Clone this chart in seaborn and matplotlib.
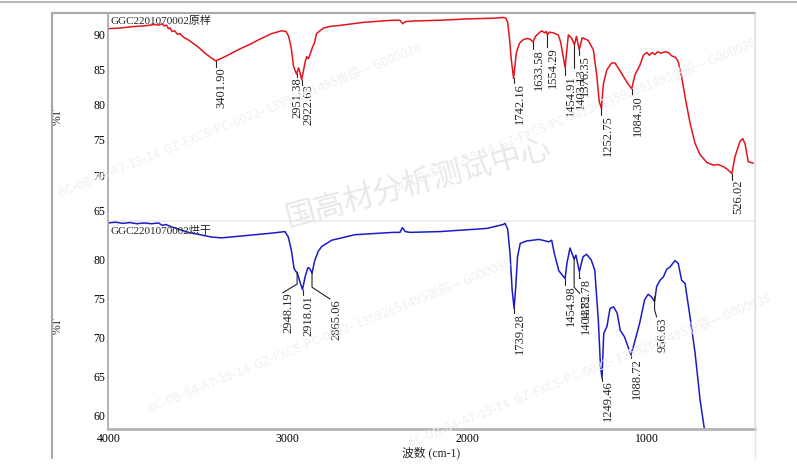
import numpy as np
import pandas as pd
import matplotlib
matplotlib.use("Agg")
import matplotlib.pyplot as plt
from matplotlib.lines import Line2D
from matplotlib.ticker import MultipleLocator
import seaborn as sns

# spectre "原样" (rouge) : nombre d'onde / %T
raw_wn = [4000, 3930, 3861, 3800, 3768, 3740, 3720, 3700, 3690, 3675, 3665, 3656, 3645, 3630,
          3615, 3600, 3582, 3554, 3500, 3461, 3430, 3401.90, 3350, 3276, 3200, 3164, 3090, 3034,
          3010, 2995, 2980, 2968, 2951.38, 2940, 2932, 2922.63, 2912, 2903, 2895, 2885, 2875, 2862,
          2852, 2840, 2800, 2770, 2700, 2580, 2420, 2375, 2360, 2345, 2300, 2152, 2000, 1850,
          1800, 1785, 1775, 1765, 1755, 1742.16, 1735, 1727, 1710, 1690, 1669, 1650, 1633.58, 1620,
          1600, 1585, 1570, 1560, 1554.29, 1545, 1520, 1493, 1480, 1470, 1454.91, 1447, 1437, 1420,
          1403.13, 1392, 1376.35, 1360, 1340, 1326, 1298, 1280, 1265, 1252.75, 1242, 1223, 1196,
          1177, 1140, 1112, 1084.30, 1066, 1038, 1019, 1000, 985, 970, 955, 940, 920, 900, 880,
          860, 840, 825, 806, 787, 759, 731, 703, 666, 630, 602, 574, 550, 526.02, 509, 481, 466,
          453, 435, 407]
raw_t = [90.9, 91.0, 91.2, 91.3, 91.4, 91.5, 91.4, 91.6, 91.3, 91.4, 90.9, 91.0, 90.5, 90.6,
         90.1, 90.2, 89.7, 89.3, 88.3, 87.4, 86.8, 86.3, 86.9, 87.9, 88.8, 89.3, 90.2, 90.6,
         90.5, 89.8, 88.0, 85.5, 84.4, 85.3, 84.6, 83.6, 85.0, 86.2, 86.9, 86.6, 87.3, 88.3,
         88.8, 90.2, 91.0, 91.2, 91.4, 91.8, 92.1, 92.1, 91.6, 91.9, 92.0, 92.1, 92.3, 92.4,
         92.5, 92.4, 91.8, 89.5, 86.5, 83.8, 85.5, 87.4, 88.8, 89.3, 89.5, 89.4, 89.0, 89.8,
         90.3, 90.6, 90.3, 90.5, 90.0, 90.4, 90.3, 90.0, 89.0, 87.5, 85.3, 87.5, 90.0, 89.6,
         88.6, 89.8, 87.9, 89.6, 89.4, 89.2, 87.9, 84.5, 80.5, 79.5, 83.0, 85.0, 86.0,
         86.0, 84.5, 83.3, 82.3, 84.3, 85.7, 87.1, 87.5, 87.1, 87.5, 87.2, 87.6, 87.4, 87.6, 87.5,
         87.0, 86.8, 86.2, 84.0, 81.2, 77.4, 74.5, 72.9, 71.8, 71.4, 71.5, 71.2, 70.8, 70.2, 72.6, 74.8, 75.2,
         74.5, 71.9, 71.7]

# spectre "烘干" (bleu)
dry_wn = [4000, 3960, 3920, 3880, 3840, 3800, 3760, 3720, 3700, 3680, 3647, 3554, 3424, 3368,
          3276, 3090, 3016, 2997, 2980, 2965, 2955, 2948.19, 2935, 2918.01, 2904, 2888, 2878,
          2865.06, 2850, 2830, 2811, 2755, 2626, 2412, 2375, 2362, 2345, 2319, 2152, 1892, 1800,
          1790, 1775, 1762, 1750, 1739.28, 1730, 1720, 1705, 1670, 1600, 1545, 1530, 1515, 1490,
          1454.98, 1445, 1428, 1404.82, 1395, 1375.78, 1355, 1335, 1310, 1290, 1270, 1258,
          1249.46, 1240, 1222, 1205, 1185, 1165, 1148, 1125, 1088.72, 1075, 1040, 1012, 993, 975,
          956.63, 945, 926, 908, 889, 870, 843, 825, 806, 787, 759, 731, 703, 681, 660]
dry_t = [84.6, 84.7, 84.55, 84.65, 84.5, 84.6, 84.5, 84.6, 84.3, 84.4, 84.1, 83.4, 82.8, 82.7,
         82.9, 83.3, 83.5, 82.8, 81.1, 78.8, 78.4, 78.3, 77.3, 76.1, 77.7, 78.9, 78.8,
         78.2, 79.8, 81.0, 81.6, 82.4, 83.1, 83.4, 83.4, 84.0, 83.5, 83.4, 83.5, 83.9, 84.4,
         84.55, 83.8, 80.7, 76.0, 73.7, 76.5, 80.3, 82.0, 82.3, 82.5, 82.2, 82.4, 80.7, 78.5,
         77.5, 79.45, 81.4, 80.0, 80.5, 78.4, 80.3, 80.6, 79.9, 78.6, 72.2, 66.3,
         64.8, 70.5, 71.4, 73.7, 73.9, 73.1, 70.9, 70.1, 67.8, 68.8, 71.8, 74.8, 75.5, 75.2,
         74.6, 76.5, 77.3, 77.7, 78.7, 79.0, 79.8, 79.45, 77.3, 76.9, 72.6, 68.0, 62.0, 58.6, 56.0]

# etiquettes des pics (texte, nombre d'onde, %T du pic, position du texte)
raw_lbl = ["3401.90", "2951.38", "2922.63", "1742.16", "1633.58", "1554.29",
           "1454.91", "1403.13", "1376.35", "1252.75", "1084.30", "526.02"]
raw_lbl_wn = [3401.90, 2951.38, 2922.63, 1742.16, 1633.58, 1554.29,
              1454.91, 1403.13, 1376.35, 1252.75, 1084.30, 526.02]
raw_lbl_peak = [86.3, 84.4, 83.6, 83.8, 89.0, 90.0, 85.3, 88.6, 87.9, 79.5, 82.3, 70.2]
raw_lbl_txt_wn = [3401.90, 2978, 2918, 1742.16, 1633.58, 1554.29,
                  1454.91, 1403.13, 1376.35, 1252.75, 1084.30, 526.02]
raw_lbl_top = [85.4, 84.0, 82.9, 83.1, 88.0, 88.3, 84.3, 85.3, 87.1, 78.6, 81.4, 69.3]

# bas : texte, pic (wn, %T), coude %T, position du texte (wn, %T)
dry_lbl = ["2948.19", "2918.01", "2865.06", "1739.28", "1454.98", "1404.82",
           "1375.78", "1249.46", "1088.72", "956.63"]
dry_lbl_wn = [2948.19, 2918.01, 2865.06, 1739.28, 1454.98, 1404.82,
              1375.78, 1249.46, 1088.72, 956.63]
dry_lbl_peak = [78.3, 76.1, 78.2, 73.7, 77.5, 80.1, 78.4, 64.8, 67.8, 75.2]
dry_lbl_knee = [76.8, 75.4, 76.4, 73.1, 76.7, 76.4, 77.6, 64.5, 67.4, 73.5]
dry_lbl_txt_wn = [3028, 2918.01, 2765, 1739.28, 1454.98, 1373, 1373, 1249.46, 1088.72, 945]
dry_lbl_txt_t = [75.7, 75.4, 74.9, 73.1, 76.7, 75.6, 77.6, 64.5, 67.4, 72.6]

raw_name = "GGC2201070002原样"
dry_name = "GGC2201070002烘干"

sns.set_theme(style="white")
plt.rcParams['font.family'] = ['Liberation Serif', 'Noto Sans CJK SC']
plt.rcParams['axes.unicode_minus'] = False

W, H = 797, 475
fig = plt.figure(figsize=(W / 100, H / 100), dpi=100)
fig.patch.set_facecolor('white')

x0, x1 = 108.3, 754.5
ax_top = fig.add_axes([x0 / W, 1 - 221 / H, (x1 - x0) / W, (221 - 13) / H])
ax_bot = fig.add_axes([x0 / W, 1 - 429.3 / H, (x1 - x0) / W, (429.3 - 221) / H])

# filigranes
fig.text(418 / W, 1 - 183 / H, "国高材分析测试中心", fontsize=22, color='#e8e8e8',
         rotation=15, ha='center', va='center', family=['Noto Sans CJK SC'], zorder=0)
wm = "6C-0B-84-A7-19-14  GZ-FXCS-PC-0022- 13592651495张辰— G000038"
for (wx, wy) in [(240, 120), (575, 115), (330, 335), (590, 370)]:
    fig.text(wx / W, 1 - wy / H, wm, fontsize=9, color='#f0f0f0', rotation=22,
             ha='center', va='center', family=['Noto Sans CJK SC'], zorder=0)

df_raw = pd.DataFrame({'wn': raw_wn, 'T': raw_t})
df_dry = pd.DataFrame({'wn': dry_wn, 'T': dry_t})
sns.lineplot(data=df_raw, x='wn', y='T', ax=ax_top, color='#e3141c', lw=1.1,
             estimator=None, sort=False)
sns.lineplot(data=df_dry, x='wn', y='T', ax=ax_bot, color='#1c1cc4', lw=1.1,
             estimator=None, sort=False)

ax_top.set_ylim(63.43, 93.14)
ax_bot.set_ylim(58.28, 84.85)
for ax in (ax_top, ax_bot):
    ax.set_xlim(4000, 400)
    ax.patch.set_alpha(0)
    ax.xaxis.set_major_locator(MultipleLocator(1000))
    ax.xaxis.set_minor_locator(MultipleLocator(200))
    ax.yaxis.set_major_locator(MultipleLocator(5))
    ax.yaxis.set_minor_locator(MultipleLocator(1))
    ax.tick_params(which='both', direction='in', colors='#555555', labelcolor='black',
                   labelsize=8.5, pad=3, width=0.8)
    ax.tick_params(which='major', length=3)
    ax.tick_params(which='minor', length=2)
    ax.tick_params(axis='x', which='both', top=False)
    ax.tick_params(axis='y', which='both', right=False, pad=2)
    ax.spines['left'].set_color('#a8a8a8')
    ax.spines['right'].set_color('#e4e4e4')
    ax.set_ylabel('%T', fontsize=8.5, rotation=90)
    ax.yaxis.set_label_coords((64 - x0) / (x1 - x0), 0.5)

ax_top.spines['top'].set_visible(False)
ax_top.spines['bottom'].set_color('#ececec')
ax_top.tick_params(axis='x', which='both', bottom=False, labelbottom=False)
ax_top.set_xlabel('')
ax_bot.spines['top'].set_visible(False)
ax_bot.spines['bottom'].set_color('#b4b4b4')
ax_bot.spines['bottom'].set_linewidth(2)
ax_bot.set_xticks([4000, 3000, 2000, 1000])
ax_bot.set_xticklabels(['4000', '3000', '2000', '1000'])
ax_bot.set_xlabel('波数 (cm-1)', fontsize=8.5, labelpad=1)

ax_top.text(3985, 92.0, raw_name, fontsize=8, va='center', ha='left')
ax_bot.text(3985, 83.6, dry_name, fontsize=8, va='center', ha='left')

# etiquettes des pics
for lbl, wn, tp, twn, tt in zip(raw_lbl, raw_lbl_wn, raw_lbl_peak, raw_lbl_txt_wn, raw_lbl_top):
    ax_top.plot([wn, wn], [tp, tt], color='#222222', lw=0.8)
    ax_top.text(twn, tt, lbl, rotation=90, ha='left', va='top', fontsize=9)

for lbl, wn, tp, tk, twn, tt in zip(dry_lbl, dry_lbl_wn, dry_lbl_peak, dry_lbl_knee,
                                     dry_lbl_txt_wn, dry_lbl_txt_t):
    ax_bot.plot([wn, wn, twn], [tp, tk, tt], color='#222222', lw=0.8)
    ax_bot.text(twn, tt, lbl, rotation=90, ha='left', va='top', fontsize=9)

# cadre exterieur
def fline(xs, ys, **kw):
    fig.add_artist(Line2D([x / W for x in xs], [1 - y / H for y in ys], **kw))

fline([0, W], [1.5, 1.5], color='#b8b8b8', lw=1.5)
fline([52, 755], [13, 13], color='#a8a8a8', lw=1.5)
fline([52, 52], [13, 458], color='#a8a8a8', lw=1.5)
fline([755, 755], [13, 458], color='#e4e4e4', lw=1)

fig.savefig('out.png', dpi=100)
